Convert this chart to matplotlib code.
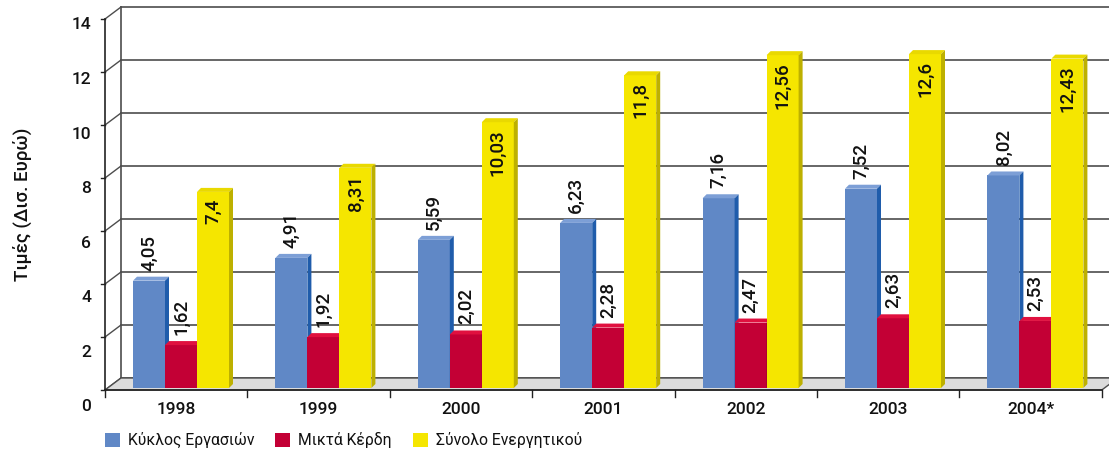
import matplotlib
matplotlib.use("Agg")
import matplotlib.pyplot as plt
from matplotlib.patches import Polygon, Rectangle

plt.rcParams['font.family'] = ['Roboto', 'DejaVu Sans']

# ---- data ----
years = ['1998', '1999', '2000', '2001', '2002', '2003', '2004*']
series_names = ['Κύκλος Εργασιών', 'Μικτά Κέρδη', 'Σύνολο Ενεργητικού']
turnover = [4.05, 4.91, 5.59, 6.23, 7.16, 7.52, 8.02]
gross_profit = [1.62, 1.92, 2.02, 2.28, 2.47, 2.63, 2.53]
total_assets = [7.4, 8.31, 10.03, 11.8, 12.56, 12.6, 12.43]
labels_turnover = ['4,05', '4,91', '5,59', '6,23', '7,16', '7,52', '8,02']
labels_profit = ['1,62', '1,92', '2,02', '2,28', '2,47', '2,63', '2,53']
labels_assets = ['7,4', '8,31', '10,03', '11,8', '12,56', '12,6', '12,43']
y_ticks = [0, 2, 4, 6, 8, 10, 12, 14]
y_label = 'Τιμές (Δισ. Ευρώ)'

# ---- layout (pixels) ----
W, H = 1109, 455
X0PX, CATPX = 105, 142.4        # front axis x and category width
Y0PX, UNITPX = 390, 26.5         # front zero line (from top) and px per unit

fig = plt.figure(figsize=(W / 100, H / 100), dpi=100)
ax = fig.add_axes([0, 0, 1, 1])
ax.set_xlim(-X0PX / CATPX, (W - X0PX) / CATPX)
ax.set_ylim(-(H - Y0PX) / UNITPX, Y0PX / UNITPX)
ax.axis('off')

def px_x(p):
    return p / CATPX

def px_y(p):
    return p / UNITPX

ncat = len(years)
ymax = y_ticks[-1]
DX, DY = px_x(16), px_y(12)        # wall depth
GRID = '#4d4d4d'

# floor
ax.add_patch(Polygon([(0, 0), (ncat, 0), (ncat + DX, DY), (DX, DY)],
                     closed=True, facecolor='#dcdcdc', edgecolor=GRID, lw=1.0, zorder=1))
# back wall gridlines
for v in y_ticks:
    ax.plot([DX, ncat + DX + 0.1], [v + DY, v + DY], color=GRID, lw=1.2, zorder=0.5)
    ax.plot([0, DX], [v, v + DY], color=GRID, lw=1.0, zorder=0.5)
    ax.plot([-px_x(4), 0], [v, v], color='#222222', lw=1.0, zorder=2)
# back wall left edge and front axis
ax.plot([DX, DX], [DY, ymax + DY], color=GRID, lw=1.2, zorder=0.5)
ax.plot([0, 0], [0, ymax], color='#222222', lw=1.2, zorder=2)
ax.plot([0, ncat], [0, 0], color='#222222', lw=1.2, zorder=2)
for i in range(ncat + 1):
    ax.plot([i, i], [0, -px_y(7)], color='#222222', lw=1.0, zorder=2)

# tick labels
for v in y_ticks:
    ax.text(-px_x(14), v * 1.03 - 0.64, str(v), ha='right', va='center',
            fontsize=12.5, fontweight='medium', color='#111111')
for i, yr in enumerate(years):
    ax.text(i + 0.5, -px_y(19), yr, ha='center', va='center',
            fontsize=12.5, fontweight='medium', color='#111111')

ax.text(-px_x(83), px_y(390 - 204), y_label, rotation=90, ha='center', va='center',
        fontsize=13.5, fontweight='medium', color='#111111')

# bars
BOFF = px_x(28)
BW = px_x(32)
BBASE = px_y(2)
BDX, BDY = px_x(4), px_y(4)
colors = [('#6088c6', '#7d9fd6', '#1f5cab'),
          ('#c30035', '#e0103f', '#8e0026'),
          ('#f5e600', '#e9d900', '#bdb000')]
series = [turnover, gross_profit, total_assets]
labels = [labels_turnover, labels_profit, labels_assets]

for i in range(ncat):
    for s in range(3):
        val = series[s][i]
        x = i + BOFF + s * BW
        front, topc, side = colors[s]
        top = BBASE + val
        ax.add_patch(Rectangle((x, BBASE), BW, val, facecolor=front, edgecolor='none', zorder=3))
        ax.add_patch(Polygon([(x, top), (x + BW, top), (x + BW + BDX, top + BDY), (x + BDX, top + BDY)],
                             closed=True, facecolor=topc, edgecolor='none', zorder=3))
        ax.add_patch(Polygon([(x + BW, BBASE), (x + BW + BDX, BBASE + BDY), (x + BW + BDX, top + BDY), (x + BW, top)],
                             closed=True, facecolor=side, edgecolor='none', zorder=3))
        if s < 2:
            ax.text(x + BW / 2, top + BDY + px_y(6), labels[s][i], rotation=90,
                    ha='center', va='bottom', fontsize=13.5, fontweight='medium',
                    color='#111111', zorder=2.5)
        else:
            ax.text(x + BW / 2, top - px_y(7), labels[s][i], rotation=90,
                    ha='center', va='top', fontsize=13.5, fontweight='medium',
                    color='#111111', zorder=4)

# legend
leg_x = [105, 275, 413]
for s in range(3):
    lx = leg_x[s]
    fig.patches.append(Rectangle((lx / W, 1 - 447 / H), 15 / W, 14 / H,
                                 transform=fig.transFigure, facecolor=colors[s][0],
                                 edgecolor='none'))
    fig.text((lx + 23) / W, 1 - 440 / H, series_names[s], ha='left', va='center',
             fontsize=11.3, color='#111111')

fig.savefig('out.png', dpi=100)
